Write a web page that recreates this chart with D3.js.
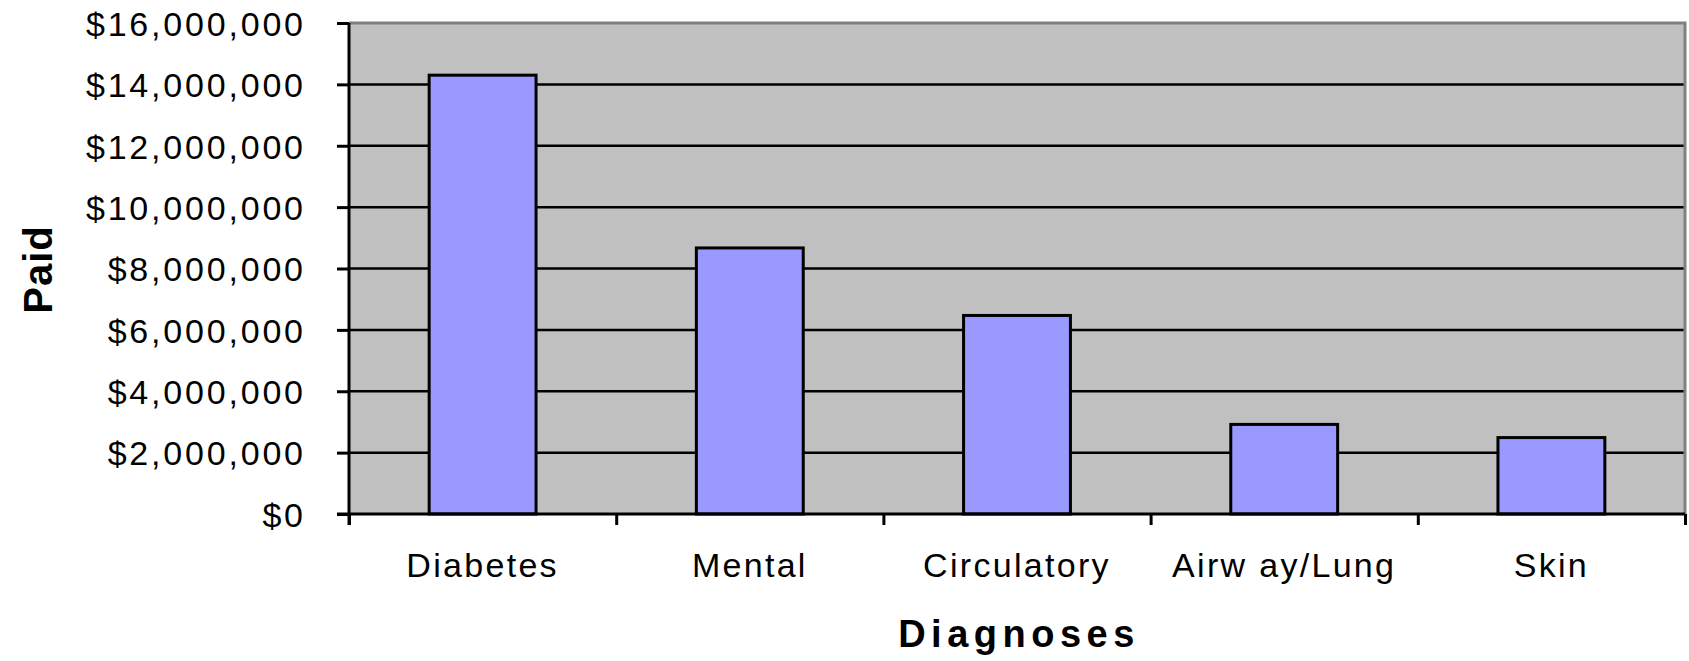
<!DOCTYPE html>
<html>
<head>
<meta charset="utf-8">
<script src="https://cdn.jsdelivr.net/npm/d3@7"></script>
<style>
  html, body { margin: 0; padding: 0; background: #ffffff; }
  svg { display: block; }
  text { font-family: "Liberation Sans", Arial, sans-serif; fill: #000; }
</style>
</head>
<body>
<svg id="chart" width="1689" height="661"></svg>
<script>
const categories = ["Diabetes", "Mental", "Circulatory", "Airw ay/Lung", "Skin"];
const paid = [14300000, 8670000, 6470000, 2920000, 2490000];
const yTicks = [0, 2000000, 4000000, 6000000, 8000000, 10000000, 12000000, 14000000, 16000000];
const xTitle = "Diagnoses";
const yTitle = "Paid";

const W = 1689, H = 661;
const plot = { left: 349, right: 1685, top: 23, bottom: 514 };

const svg = d3.select("#chart");

const x = d3.scaleBand().domain(categories).range([plot.left, plot.right]).paddingInner(0).paddingOuter(0);
const xb = d3.scaleLinear().domain([0, categories.length]).range([plot.left, plot.right]);
const y = d3.scaleLinear().domain([0, 16000000]).range([plot.bottom, plot.top]);

// plot background
svg.append("rect")
  .attr("x", plot.left).attr("y", plot.top)
  .attr("width", plot.right - plot.left).attr("height", plot.bottom - plot.top)
  .attr("fill", "#c0c0c0");

// gridlines
svg.append("g").selectAll("line")
  .data(yTicks.filter(t => t > 0 && t < 16000000))
  .join("line")
  .attr("x1", plot.left).attr("x2", plot.right)
  .attr("y1", d => y(d)).attr("y2", d => y(d))
  .attr("stroke", "#000").attr("stroke-width", 2.5);

// top & right border (gray)
svg.append("path")
  .attr("d", `M${plot.left},${plot.top}H${plot.right}V${plot.bottom}`)
  .attr("fill", "none").attr("stroke", "#808080").attr("stroke-width", 3);

// bars
const barW = x.bandwidth() * 0.4;
svg.append("g").selectAll("rect")
  .data(categories.map((c, i) => ({ c, v: paid[i] })))
  .join("rect")
  .attr("x", d => x(d.c) + (x.bandwidth() - barW) / 2)
  .attr("y", d => y(d.v))
  .attr("width", barW)
  .attr("height", d => y(0) - y(d.v))
  .attr("fill", "#9999ff")
  .attr("stroke", "#000")
  .attr("stroke-width", 3);

// y axis
const yAxis = d3.axisLeft(y).tickValues(yTicks).tickSize(12).tickPadding(34)
  .tickFormat(d3.format("$,"));
const gy = svg.append("g").attr("transform", `translate(${plot.left},0)`).call(yAxis);
gy.select(".domain").attr("stroke", "#000").attr("stroke-width", 3)
  .attr("d", `M0,${plot.top}V${plot.bottom + 11}`);
gy.selectAll(".tick line").attr("stroke", "#000").attr("stroke-width", 3);
gy.selectAll(".tick text")
  .attr("font-family", "'Liberation Sans', Arial, sans-serif")
  .attr("font-size", 34).attr("fill", "#000")
  .style("letter-spacing", "2.8px")
  .attr("dx", "2.8")
  .attr("dy", "0.36em");

// x axis boundary ticks
const xAxisTicks = d3.axisBottom(xb).tickValues(d3.range(0, categories.length + 1)).tickSize(11).tickFormat("");
const gx = svg.append("g").attr("transform", `translate(0,${plot.bottom})`).call(xAxisTicks);
gx.select(".domain").attr("stroke", "#000").attr("stroke-width", 3)
  .attr("d", `M${plot.left - 12},0H${plot.right}`);
gx.selectAll(".tick line").attr("stroke", "#000").attr("stroke-width", 3);

// x labels
const xLab = d3.axisBottom(x).tickSize(0).tickPadding(0);
const gxl = svg.append("g").attr("transform", `translate(0,${plot.bottom})`).call(xLab);
gxl.select(".domain").remove();
gxl.selectAll(".tick text")
  .attr("font-family", "'Liberation Sans', Arial, sans-serif")
  .attr("font-size", 34).attr("fill", "#000")
  .style("letter-spacing", "2.3px")
  .attr("dx", "0")
  .attr("y", 63).attr("dy", 0);

// axis titles
svg.append("text")
  .attr("x", (plot.left + plot.right) / 2 + 2)
  .attr("y", 647)
  .attr("text-anchor", "middle")
  .attr("font-size", 38).attr("font-weight", "bold")
  .style("letter-spacing", "5.5px")
  .text(xTitle);

svg.append("text")
  .attr("transform", `translate(52,${(plot.top + plot.bottom) / 2 + 1}) rotate(-90)`)
  .attr("text-anchor", "middle")
  .attr("font-size", 40).attr("font-weight", "bold")
  .style("letter-spacing", "1px")
  .text(yTitle);
</script>
</body>
</html>
